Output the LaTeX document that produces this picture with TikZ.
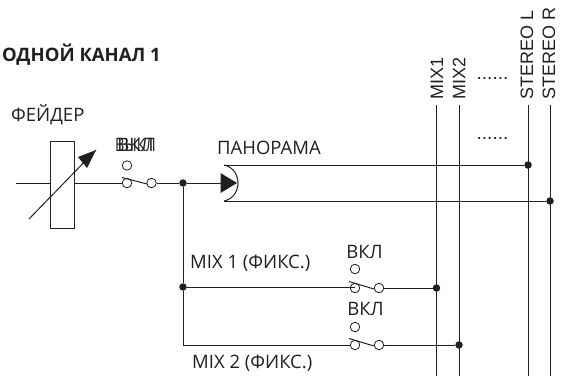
\documentclass[tikz,border=0pt]{standalone}
\usepackage{fontspec}
\setmainfont{Open Sans}
\newfontfamily\arialf{Liberation Sans}
\definecolor{ink}{HTML}{231F20}
\tikzset{
 wire/.style={draw=ink,line width=1pt},
 contact/.style={circle,draw=ink,line width=0.8pt,fill=white,minimum size=9.5pt,inner sep=0pt},
 dotn/.style={circle,fill=ink,minimum size=7.5pt,inner sep=0pt},
 lab/.style={text=ink,font=\fontsize{18.5}{20}\selectfont,inner sep=0pt},
 bus/.style={text=ink,font=\arialf\fontsize{18}{20}\selectfont,inner sep=0pt,rotate=90,anchor=west},
 faderbox/.style={draw=ink,line width=1pt,fill=white,minimum width=24pt,minimum height=87pt,inner sep=0pt},
 dotted label/.style={text=ink,font=\arialf\fontsize{19}{20}\selectfont,inner sep=0pt}
}
\begin{document}
\begin{tikzpicture}[x=1pt,y=-1pt]
\useasboundingbox (0,0) rectangle (561,376);
% labels
\node[lab,anchor=east,font=\bfseries\fontsize{18.5}{20}\selectfont] (title) at (161,55) {ОДНОЙ КАНАЛ 1};
\node[lab,anchor=west] (faderlab) at (11,115) {ФЕЙДЕР};
\node[lab,anchor=west] (panlab) at (217,148) {ПАНОРАМА};
\node[lab] (on1a) at (135.5,145) {ВКЛ};
\node[lab,xscale=0.78] (on1b) at (135.5,145) {ВЫКЛ};
\node[lab,anchor=west] (mix1lab) at (190,263) {MIX 1 (ФИКС.)};
\node[lab,anchor=west] (mix2lab) at (192,363) {MIX 2 (ФИКС.)};
\node[lab] (on2) at (364.5,252) {ВКЛ};
\node[lab] (on3) at (365.5,309) {ВКЛ};
% bus labels
\node[bus] (b1) at (437,100) {MIX1};
\node[bus] (b2) at (459,100) {MIX2};
\node[bus] (b3) at (527,100) {STEREO L};
\node[bus] (b4) at (549,100) {STEREO R};
\node[dotted label] (d1) at (492.5,78) {......};
\node[dotted label] (d2) at (492.5,138) {......};
% bus coordinates
\coordinate (b1t) at (436.5,105); \coordinate (b1e) at (436.5,376);
\coordinate (b2t) at (459,105);   \coordinate (b2e) at (459,376);
\coordinate (b3t) at (528,105);   \coordinate (b3e) at (528,376);
\coordinate (b4t) at (550,105);   \coordinate (b4e) at (550,376);
\draw[wire] (b1t)--(b1e);
\draw[wire] (b2t)--(b2e);
\draw[wire] (b3t)--(b3e);
\draw[wire] (b4t)--(b4e);
% main line
\coordinate (in) at (16,183);
\node[faderbox] (fader) at (62,184.5) {};
\node[dotn] (j1) at (183,183) {};
\node[contact] (s1a) at (127,183) {};
\node[contact] (s1b) at (151.5,183) {};
\node[contact] (s1u) at (127,165.5) {};
\coordinate (l1a) at (122,177.5); \coordinate (l1b) at (147,184);
\draw[wire] (in)--(in -| fader.west);
\draw[wire] (s1a -| fader.east)--(s1a);
\draw[wire] (s1b)--(j1);
\draw[wire] (l1a)--(l1b);
% fader arrow
\coordinate (fs) at (29,219); \coordinate (fe) at (96,150);
\draw[wire] (fs)--(fe);
\fill[ink] (96,150) -- (78,157) -- (87,168) -- cycle;
% panorama
\coordinate (pt) at (224,165); \coordinate (pb) at (224,201); \coordinate (pc) at (221,183); \coordinate (ptip) at (238,183);
\node[dotn] (pL) at (528,165) {};
\node[dotn] (pR) at (550,201) {};
\draw[wire] (j1)--(pc);
\fill[ink] (220.5,173) -- (237,183) -- (220.5,193) -- cycle;
\draw[wire] (pt) .. controls (234,167) and (238,176) .. (ptip) .. controls (238,190) and (234,199) .. (pb);
\draw[wire] (pt)--(pL);
\draw[wire] (pb)--(pR);
% mix 1
\node[dotn] (j2) at (183,287) {};
\node[contact] (s2a) at (355,288) {};
\node[contact] (s2b) at (379,288) {};
\node[contact] (s2u) at (355,269) {};
\node[dotn] (m1) at (436.5,288) {};
\coordinate (l2a) at (349,281.5); \coordinate (l2b) at (374,289);
\draw[wire] (j1)--(j2);
\draw[wire] (j2 -| s2a)--(j2);
\draw[wire] (s2b)--(m1);
\draw[wire] (l2a)--(l2b);
% mix 2
\coordinate (c3) at (183,345);
\node[contact] (s3a) at (355,345) {};
\node[contact] (s3b) at (379,345) {};
\node[contact] (s3u) at (355,327) {};
\node[dotn] (m2) at (459,345) {};
\coordinate (l3a) at (349,338.5); \coordinate (l3b) at (374,346);
\draw[wire] (j2)--(c3)--(s3a);
\draw[wire] (s3b)--(m2);
\draw[wire] (l3a)--(l3b);
\end{tikzpicture}
\end{document}
